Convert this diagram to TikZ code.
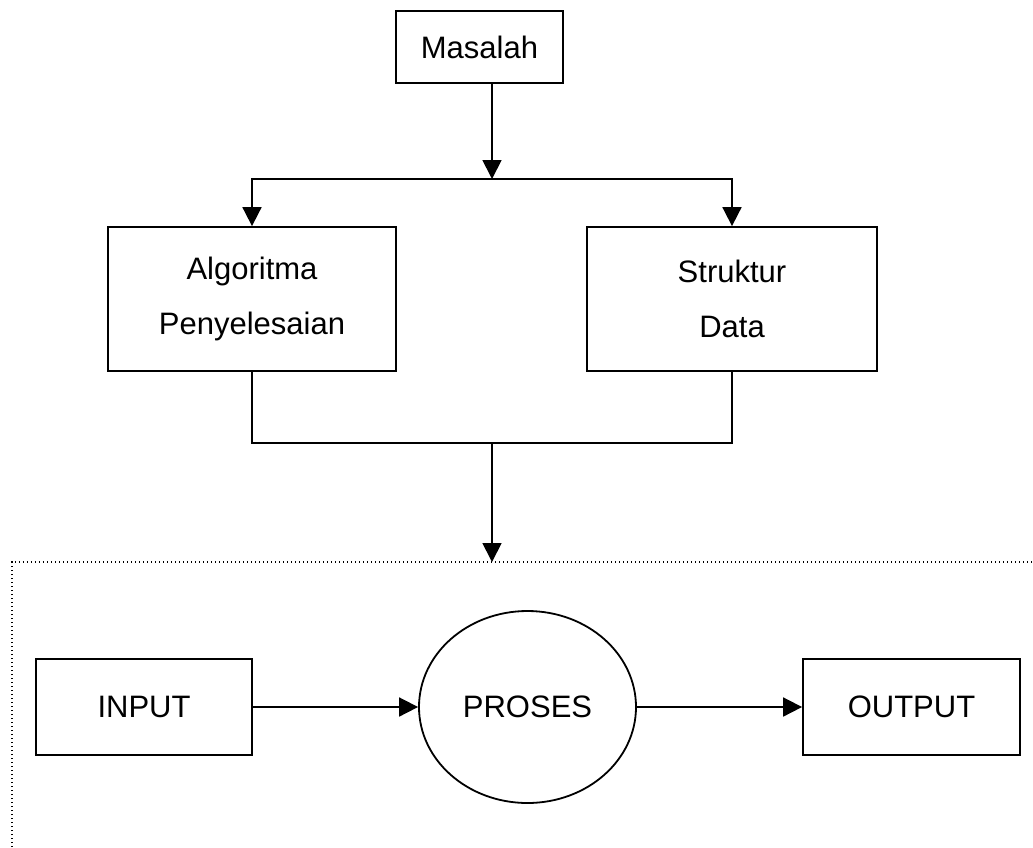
\documentclass[tikz,border=0pt]{standalone}
\usepackage{fontspec}
\setmainfont{Liberation Sans}
\usetikzlibrary{arrows.meta,shapes.geometric}
\begin{document}
\begin{tikzpicture}[x=1pt,y=-1pt,
  line width=1.8pt,
  every node/.style={font=\fontsize{31}{55}\selectfont, inner sep=0pt},
  box/.style={draw, rectangle, align=center},
  arr/.style={-{Triangle[length=19pt,width=19pt]}},
  dotline/.style={line width=1.2pt, dash pattern=on 1.2pt off 2.8pt}
]
\useasboundingbox (0,0) rectangle (1033,847);
\fill[white] (0,0) rectangle (1033,847);

\node[box, minimum width=167pt, minimum height=72pt] (masalah) at (479.5,47) {Masalah};
\node[box, minimum width=288pt, minimum height=144pt] (algo) at (252,299) {Algoritma\\Penyelesaian};
\node[box, minimum width=290pt, minimum height=144pt] (struk) at (732,299) {Struktur\\Data};

\node[box, minimum width=216pt, minimum height=96pt] (input) at (144,707) {INPUT};
\node[draw, ellipse, minimum width=217pt, minimum height=192pt] (proses) at (527.5,707) {PROSES};
\node[box, minimum width=217pt, minimum height=96pt] (output) at (911.5,707) {OUTPUT};

\coordinate (split) at (492,179);
\coordinate (merge) at (492,443);
\coordinate (dtop) at (492,562);
\coordinate (dl) at (12,847);
\coordinate (dc) at (12,562);
\coordinate (dr) at (1033,562);

\draw[arr] (masalah.south -| split) -- (split);
\draw[arr] (split) -| (algo.north);
\draw[arr] (split) -| (struk.north);

\draw (algo.south) |- (merge) -| (struk.south);
\draw[arr] (merge) -- (dtop);

\draw[dotline] (dl) -- (dc) -- (dr);

\draw[arr] (input.east) -- (proses.west);
\draw[arr] (proses.east) -- (output.west);
\end{tikzpicture}
\end{document}
